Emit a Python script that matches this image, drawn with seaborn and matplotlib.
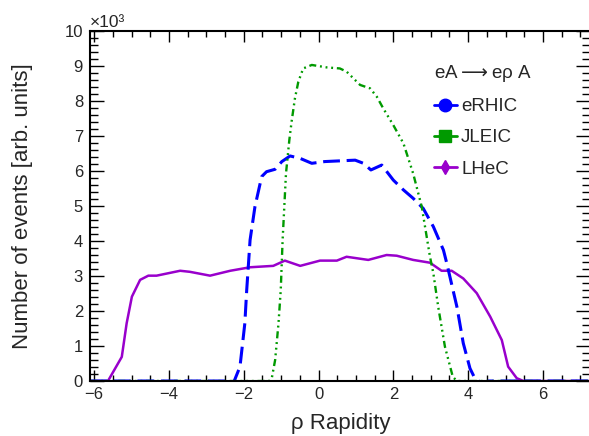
import numpy as np
import matplotlib
matplotlib.use("Agg")
import matplotlib.pyplot as plt
from matplotlib.lines import Line2D
from matplotlib.ticker import MultipleLocator
import seaborn as sns

# rapidity distributions, y in units of 10^3 events
lhec_x = [-6.1, -5.63, -5.26, -5.13, -4.99, -4.77, -4.55, -4.33, -3.70, -3.44, -2.90,
          -2.36, -1.83, -1.21, -0.90, -0.49, 0.04, 0.49, 0.75, 1.33, 1.82, 2.09,
          2.53, 2.98, 3.29, 3.56, 3.87, 4.23, 4.59, 4.90, 5.07, 5.30, 5.48, 7.3]
lhec_y = [0.0, 0.0, 0.69, 1.65, 2.41, 2.89, 3.01, 3.01, 3.15, 3.12, 3.01,
          3.15, 3.25, 3.29, 3.44, 3.29, 3.44, 3.44, 3.55, 3.46, 3.60, 3.58,
          3.46, 3.38, 3.15, 3.15, 2.93, 2.51, 1.84, 1.17, 0.41, 0.08, 0.0, 0.0]

erhic_x = [-6.1, -2.45, -2.28, -2.10, -1.97, -1.92, -1.83, -1.70, -1.52, -1.39, -1.16,
           -0.98, -0.76, -0.49, -0.18, 0.17, 0.57, 0.98, 1.20, 1.40, 1.69, 2.00,
           2.27, 2.53, 2.80, 3.07, 3.34, 3.43, 3.70, 3.87, 4.05, 4.16, 4.36, 4.55, 7.3]
erhic_y = [0.0, 0.0, -0.07, 0.41, 1.65, 2.60, 4.03, 4.98, 5.84, 5.98, 6.05,
           6.27, 6.43, 6.36, 6.22, 6.27, 6.29, 6.31, 6.22, 6.03, 6.17, 5.74,
           5.46, 5.22, 4.93, 4.41, 3.74, 3.36, 2.12, 1.08, 0.36, 0.12, -0.07, 0.0, 0.0]

jleic_x = [-6.1, -1.32, -1.25, -1.16, -1.07, -1.01, -0.96, -0.87, -0.78, -0.72, -0.63,
           -0.54, -0.41, -0.18, 0.22, 0.57, 0.75, 0.93, 1.11, 1.38, 1.56, 1.73,
           2.00, 2.27, 2.53, 2.76, 2.98, 3.07, 3.20, 3.38, 3.59, 3.70, 7.3]
jleic_y = [0.0, 0.0, 0.08, 0.60, 1.65, 2.60, 4.03, 5.93, 6.89, 7.41, 8.08,
           8.55, 8.93, 9.03, 8.96, 8.93, 8.84, 8.65, 8.46, 8.36, 8.12, 7.79,
           7.31, 6.79, 5.93, 4.98, 3.55, 3.08, 2.12, 0.98, 0.12, 0.0, 0.0]

labels = ["eRHIC", "JLEIC", "LHeC"]
colors = ["#0000ff", "#009a00", "#9900cc"]

sns.set_style("ticks")
plt.rcParams["font.family"] = ["Liberation Sans", "DejaVu Sans"]
plt.rcParams["axes.unicode_minus"] = True

fig = plt.figure(figsize=(5.89, 4.36), dpi=100)
ax = fig.add_axes([0.1528, 0.1261, 0.849, 0.8028])

sns.lineplot(x=lhec_x, y=lhec_y, ax=ax, color=colors[2], lw=1.8,
             estimator=None, sort=False)
sns.lineplot(x=erhic_x, y=erhic_y, ax=ax, color=colors[0], lw=2.2,
             linestyle=(0, (5.5, 2.2)), estimator=None, sort=False)
sns.lineplot(x=jleic_x, y=jleic_y, ax=ax, color=colors[1], lw=1.7,
             linestyle=(0, (3, 1.6, 0.8, 1.6, 0.8, 1.6, 0.8, 1.6)),
             estimator=None, sort=False)

ax.set_xlim(-6.11, 7.26)
ax.set_ylim(0, 10)

ax.xaxis.set_major_locator(MultipleLocator(2))
ax.xaxis.set_minor_locator(MultipleLocator(0.5))
ax.yaxis.set_major_locator(MultipleLocator(1))
ax.yaxis.set_minor_locator(MultipleLocator(0.2))
ax.tick_params(which="both", direction="in", top=True, right=True,
               labelsize=12, color="black", width=1.0)
ax.tick_params(axis="x", which="major", length=8, pad=4)
ax.tick_params(axis="x", which="minor", length=4.3)
ax.tick_params(axis="y", which="major", length=10, pad=5)
ax.tick_params(axis="y", which="minor", length=6)
for sp in ax.spines.values():
    sp.set_linewidth(1.5)
    sp.set_color("black")

ax.set_xlabel("ρ Rapidity", fontsize=16)
ax.set_ylabel("Number of events [arb. units]", fontsize=16)
ax.xaxis.set_label_coords(0.501, -0.091)
ax.xaxis.label.set_va("top")
ax.yaxis.set_label_coords(-0.114, 0.5)

ax.text(0.0, 1.003, "×10³", transform=ax.transAxes, fontsize=12.5,
        ha="left", va="bottom")

markers = ["o", "s", "d"]
sizes = [9, 8, 7]
handles = [Line2D([], [], color=c, marker=m, ms=s, lw=2)
           for c, m, s in zip(colors, markers, sizes)]
leg = ax.legend(handles, labels, title=r"eA$\longrightarrow$eρ A",
                title_fontsize=13.5, fontsize=13.5,
                loc="upper left", bbox_to_anchor=(434 / 589, 1 - 63 / 436),
                bbox_transform=fig.transFigure, frameon=False, borderpad=0,
                borderaxespad=0, handlelength=1.2, handletextpad=0.25,
                labelspacing=0.75, alignment="left")

fig.savefig("out.png", dpi=100)
